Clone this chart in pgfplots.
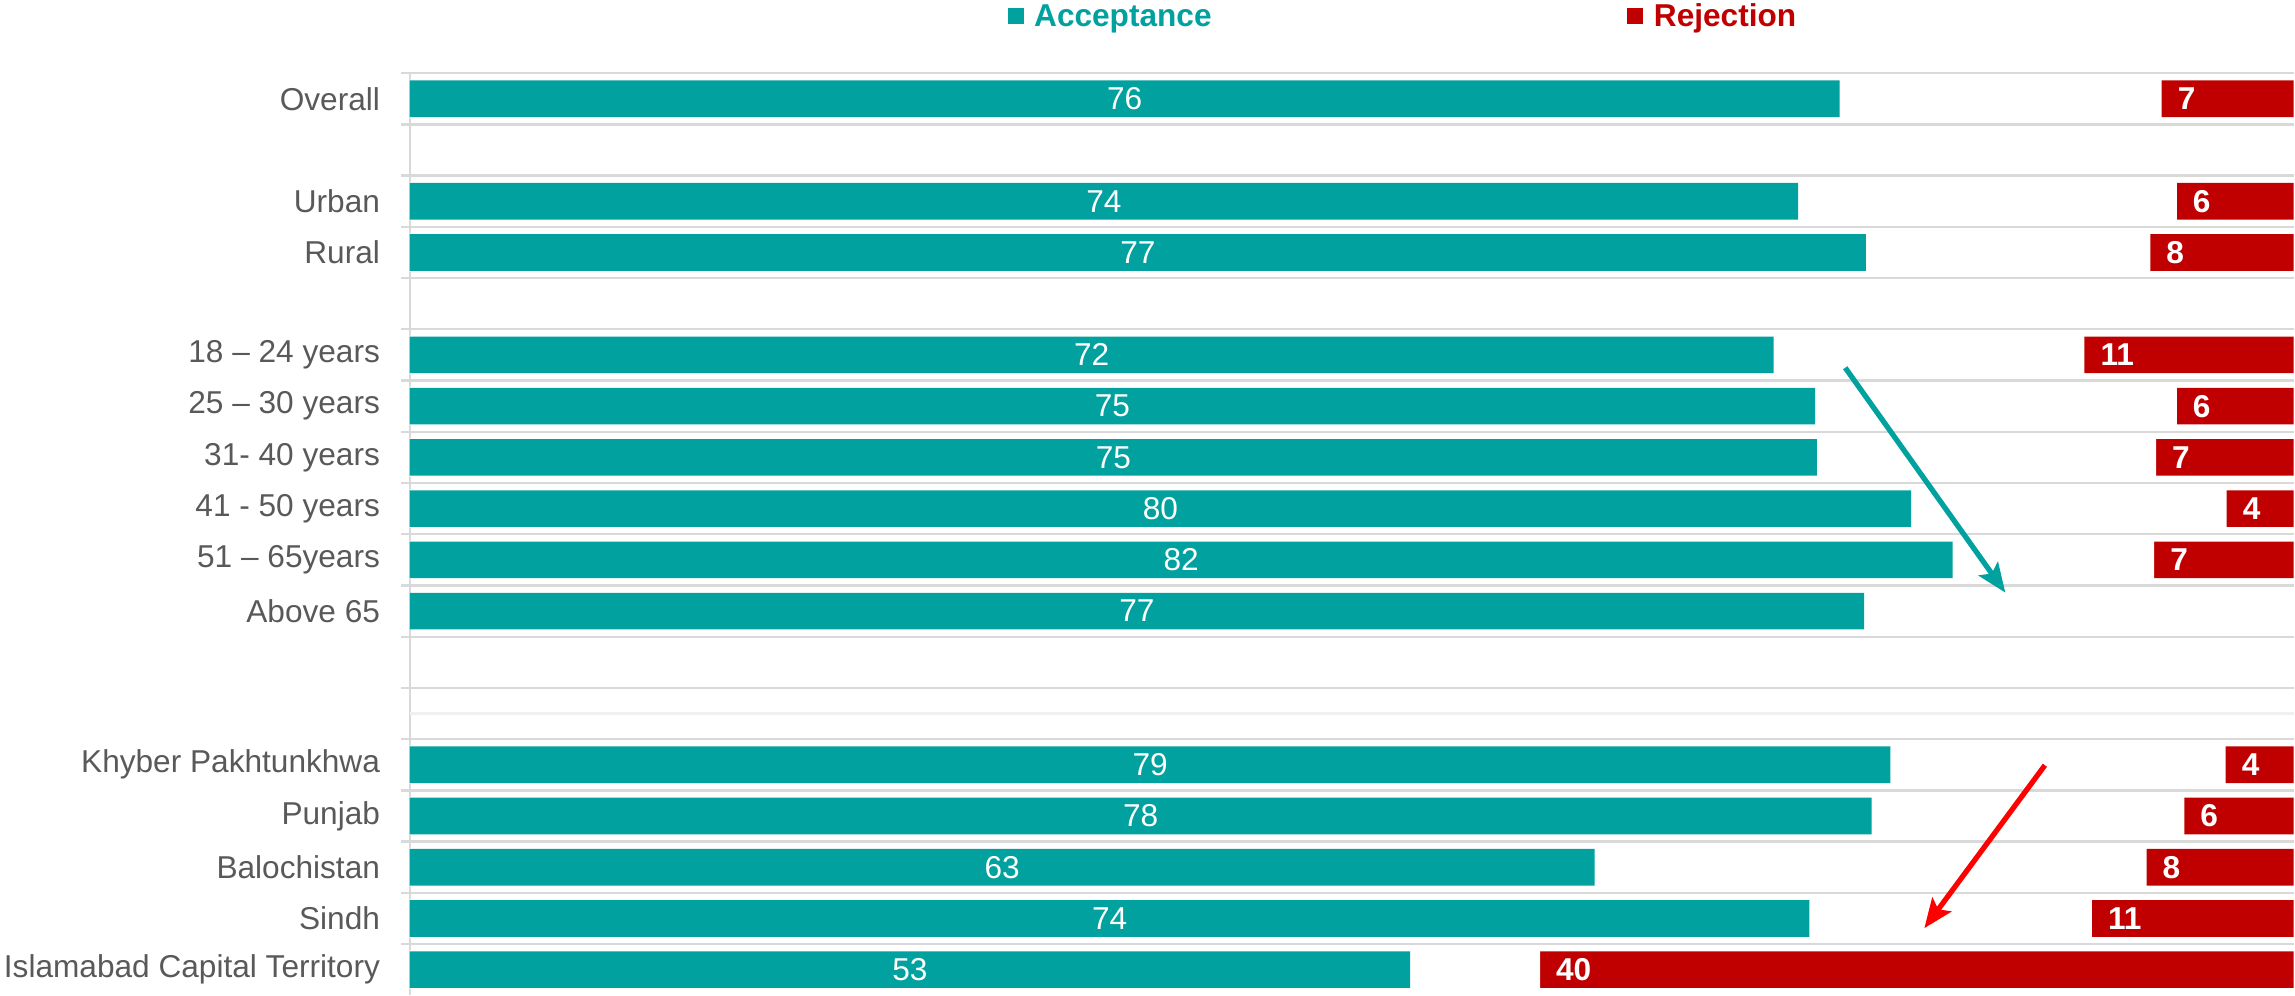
\documentclass[border=0pt]{standalone}
\usepackage{pgfplots}
\pgfplotsset{compat=1.18}
\usepackage{pgfplotstable}
\usepackage{fontspec}
\setmainfont{Liberation Sans}
\usetikzlibrary{arrows.meta}
\definecolor{accT}{HTML}{00A19F}
\definecolor{rejR}{HTML}{C00000}
\definecolor{lblG}{HTML}{595959}
\definecolor{gridG}{HTML}{D9D9D9}
\definecolor{faintG}{HTML}{F0F0F0}
\definecolor{arrR}{HTML}{FF0000}

% acceptance (row position y, value a)
\pgfplotstableread{
y a
17 75.9
15 73.7
14 77.3
12 72.4
11 74.6
10 74.7
9 79.7
8 81.9
7 77.2
4 78.6
3 77.6
2 62.9
1 74.3
0 53.1
}\acc
% rejection (row position y, value r); drawn from 100-r to 100
\pgfplotstableread{
y r
17 7.0
15 6.2
14 7.6
12 11.1
11 6.2
10 7.3
9 3.55
8 7.4
4 3.6
3 5.8
2 7.8
1 10.7
0 40.0
}\rej

\begin{document}
\begin{tikzpicture}[font=\fontsize{10.8pt}{13pt}\selectfont]
\begin{axis}[
  scale only axis,
  width=643.5pt, height=315pt,
  xmin=0, xmax=100,
  ymin=-0.5, ymax=17.5,
  clip=false,
  /pgf/number format/assume math mode=true,
  axis x line=none,
  axis y line=left,
  y axis line style={-, draw=gridG, line width=0.8pt},
  ytick={0,1,2,3,4,7,8,9,10,11,12,14,15,17},
  yticklabels={Islamabad Capital Territory, Sindh, Balochistan, Punjab, Khyber Pakhtunkhwa,
    Above 65, 51 – 65years, 41 - 50 years, 31- 40 years, 25 – 30 years, 18 – 24 years,
    Rural, Urban, Overall\hspace{3pt}},
  yticklabel style={text=lblG, inner sep=0pt, xshift=-10pt},
  major tick length=0pt,
  tick align=outside,
  minor ytick={0.5,1.5,...,17.5},
  minor tick length=3pt,
  minor tick style={draw=gridG, line width=0.8pt},
  yminorgrids=true,
  minor grid style={draw=gridG, line width=0.8pt},
  extra y ticks={5},
  extra y tick labels={},
  extra y tick style={grid=major, major grid style={draw=faintG, line width=0.8pt}, major tick length=0pt},
]
% rejection bars: full bar to 100, then white cover up to 100-r
\addplot[xbar, bar width=0.715, bar shift=0pt, fill=rejR, draw=none]
  table[x expr=100, y=y] {\rej};
\addplot[xbar, bar width=0.76, bar shift=0pt, fill=white, draw=none]
  table[x expr=100-\thisrow{r}, y=y] {\rej};
% acceptance bars
\addplot[xbar, bar width=0.715, bar shift=0pt, fill=accT, draw=none]
  table[x=a, y=y] {\acc};
% labels
\addplot[draw=none, mark=none, point meta=explicit,
  nodes near coords={\pgfmathprintnumber[fixed,precision=0]{\pgfplotspointmeta}},
  every node near coord/.style={anchor=center, text=white, inner sep=0pt}]
  table[x expr=\thisrow{a}/2, y=y, meta=a] {\acc};
\addplot[draw=none, mark=none, point meta=explicit,
  nodes near coords={\pgfmathprintnumber[fixed,precision=0]{\pgfplotspointmeta}},
  every node near coord/.style={anchor=west, xshift=5.3pt, text=white, inner sep=0pt, font=\fontsize{10.8pt}{13pt}\selectfont\bfseries}]
  table[x expr=100-\thisrow{r}, y=y, meta=r] {\rej};
% legend
\node[anchor=base west, inner sep=0pt, text=accT, font=\fontsize{10.8pt}{13pt}\selectfont\bfseries]
  at (axis cs:31.7,18.42) {\rule[0.6pt]{5.5pt}{5.5pt}\hspace{3.6pt}Acceptance};
\node[anchor=base west, inner sep=0pt, text=rejR, font=\fontsize{10.8pt}{13pt}\selectfont\bfseries]
  at (axis cs:64.6,18.42) {\rule[0.6pt]{5.5pt}{5.5pt}\hspace{3.6pt}Rejection};
% arrows
\draw[accT, line width=1.8pt, -{Stealth[length=10pt,width=8pt,inset=2pt]}]
  (axis cs:76.2,11.75) -- (axis cs:84.7,7.36);
\draw[arrR, line width=1.8pt, -{Stealth[length=10pt,width=8pt,inset=2pt]}]
  (axis cs:86.8,3.99) -- (axis cs:80.4,0.81);
\coordinate (pBL) at (rel axis cs:0,0);
\coordinate (pTR) at (rel axis cs:1,1);
\end{axis}
\pgfresetboundingbox
\path ([xshift=-140pt]pBL) rectangle ([xshift=0.5pt,yshift=25pt]pTR);
\end{tikzpicture}
\end{document}
